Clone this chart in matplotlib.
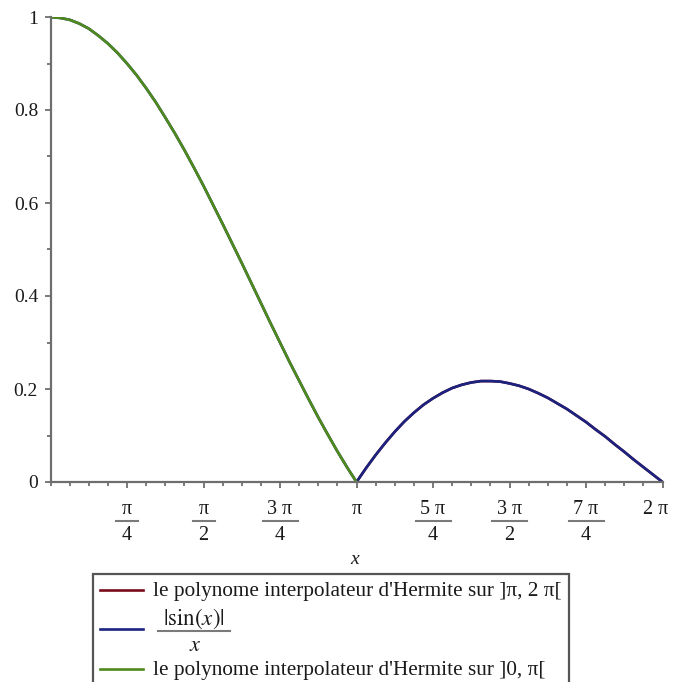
import numpy as np
import matplotlib.pyplot as plt
from matplotlib.lines import Line2D
from matplotlib.patches import Rectangle
from matplotlib.transforms import blended_transform_factory
from matplotlib.ticker import FixedLocator, MultipleLocator

plt.rcParams['font.family'] = ['Liberation Serif', 'DejaVu Serif']
plt.rcParams['mathtext.fontset'] = 'stix'

# échantillons tous les pi/32 sur [0, 2pi]
pas = np.pi / 32
abs_sinc = [1.000, 0.998, 0.994, 0.986, 0.975, 0.960, 0.943, 0.923, 0.900,
            0.875, 0.847, 0.817, 0.784, 0.750, 0.714, 0.676, 0.637,
            0.596, 0.555, 0.513, 0.471, 0.428, 0.385, 0.342, 0.300,
            0.258, 0.218, 0.178, 0.139, 0.102, 0.066, 0.032, 0.000,
            0.030, 0.058, 0.084, 0.108, 0.130, 0.149, 0.166, 0.180,
            0.192, 0.202, 0.209, 0.214, 0.217, 0.217, 0.216, 0.212,
            0.207, 0.200, 0.191, 0.181, 0.169, 0.157, 0.143, 0.129,
            0.113, 0.098, 0.081, 0.065, 0.048, 0.032, 0.016, 0.000]
hermite_0_pi = [1.000, 0.998, 0.994, 0.986, 0.975, 0.960, 0.943, 0.923, 0.900,
                0.875, 0.847, 0.817, 0.784, 0.750, 0.714, 0.676, 0.637,
                0.596, 0.555, 0.513, 0.471, 0.428, 0.385, 0.342, 0.300,
                0.258, 0.218, 0.178, 0.139, 0.102, 0.066, 0.032, 0.000]
hermite_pi_2pi = [0.000, 0.030, 0.058, 0.084, 0.108, 0.130, 0.149, 0.166, 0.180,
                  0.192, 0.202, 0.209, 0.214, 0.217, 0.217, 0.216, 0.212,
                  0.207, 0.200, 0.191, 0.181, 0.169, 0.157, 0.143, 0.129,
                  0.113, 0.098, 0.081, 0.065, 0.048, 0.032, 0.016, 0.000]

label_1 = "le polynome interpolateur d'Hermite sur ]π, 2 π["
label_3 = "le polynome interpolateur d'Hermite sur ]0, π["
couleurs = ['#7a0c1c', '#1a237f', '#4e8a1c']

num_ticks = ['π', 'π', '3 π', 'π', '5 π', '3 π', '7 π', '2 π']
den_ticks = ['4', '2', '4', '', '4', '2', '4', '']
y_ticks = [0, 0.2, 0.4, 0.6, 0.8, 1]
y_labels = ['0', '0.2', '0.4', '0.6', '0.8', '1']

x_all = np.arange(len(abs_sinc)) * pas
x_g = x_all[:len(hermite_0_pi)]
x_d = x_all[len(hermite_0_pi) - 1:]

W, H = 674, 682
fig = plt.figure(figsize=(W / 100, H / 100), dpi=100)
ax = fig.add_axes([50.5 / W, 200 / H, 612 / W, 465 / H])

kw = dict(lw=1.9, solid_joinstyle='round', solid_capstyle='round')
l1, = ax.plot(x_d, hermite_pi_2pi, color=couleurs[0], **kw)
l2, = ax.plot(x_all, abs_sinc, color=couleurs[1], **kw)
l3, = ax.plot(x_g, hermite_0_pi, color=couleurs[2], **kw)

ax.set_xlim(0, 2 * np.pi)
ax.set_ylim(0, 1)
for s in ['top', 'right']:
    ax.spines[s].set_visible(False)
gris = '#6e6e6e'
for s in ['left', 'bottom']:
    ax.spines[s].set_color(gris)
    ax.spines[s].set_linewidth(1.6)

major_x = [(k + 1) * np.pi / 4 for k in range(8)]
ax.xaxis.set_major_locator(FixedLocator(major_x))
ax.xaxis.set_minor_locator(MultipleLocator(np.pi / 16))
ax.set_xticklabels([''] * 8)
ax.yaxis.set_major_locator(FixedLocator(y_ticks))
ax.yaxis.set_minor_locator(MultipleLocator(0.1))
ax.set_yticklabels(y_labels)
ax.tick_params(which='major', length=4.5, width=1.3, color=gris, direction='out')
ax.tick_params(which='minor', length=3, width=1.3, color=gris, direction='out')
ax.tick_params(axis='y', labelsize=14, pad=4.5, labelcolor='#1a1a1a')

# étiquettes fractionnaires de l'axe des x
trans = blended_transform_factory(ax.transData, ax.transAxes)
px = (np.pi / 4) / 76.5
for k, (n, d) in enumerate(zip(num_ticks, den_ticks)):
    xv = major_x[k]
    if k == 7:
        xv -= 7 * px
    ax.text(xv, -28 / 465, n, transform=trans, ha='center', va='center',
            fontsize=14.5, color='#1a1a1a')
    if d:
        hw = (11 if len(n) == 1 else 17.5) * px
        ax.plot([xv - hw, xv + hw], [-39 / 465, -39 / 465], transform=trans,
                color='#7a7a7a', lw=1.5, clip_on=False)
        ax.text(xv, -54 / 465, d, transform=trans, ha='center', va='center',
                fontsize=14.5, color='#1a1a1a')

ax.text(np.pi - 2 * px, -78 / 465, 'x', transform=trans, ha='center', va='center',
        fontsize=14, style='italic', color='#1a1a1a')


# légende (coupée en bas de la figure)
def fx(p):
    return p / W


def fy(p):
    return 1 - p / H


cadre = Rectangle((fx(93), fy(700)), fx(569) - fx(93), fy(574) - fy(700),
                  transform=fig.transFigure, facecolor='white',
                  edgecolor='#555555', lw=1.6)
fig.add_artist(cadre)
for ligne, yl in zip([l1, l2, l3], [590, 629, 669]):
    fig.add_artist(Line2D([fx(100), fx(143)], [fy(yl), fy(yl)],
                          transform=fig.transFigure, color=ligne.get_color(),
                          lw=1.9))
fig.text(fx(153), fy(596), label_1, fontsize=15.3, va='baseline', color='#1a1a1a')
fig.text(fx(153), fy(675), label_3, fontsize=15.3, va='baseline', color='#1a1a1a')
fig.text(fx(194), fy(625), r'$|\mathrm{sin}(x)|$', fontsize=16.5, ha='center',
         va='baseline', color='#1a1a1a')
fig.add_artist(Line2D([fx(158), fx(230)], [fy(631), fy(631)],
                      transform=fig.transFigure, color='#7a7a7a', lw=1.5))
fig.text(fx(195), fy(651), r'$x$', fontsize=16, ha='center', va='baseline',
         color='#1a1a1a')

fig.savefig('out.png', dpi=100)
